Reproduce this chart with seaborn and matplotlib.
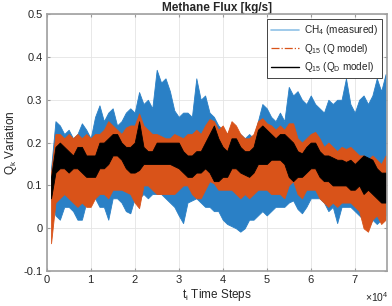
import numpy as np
import matplotlib
matplotlib.use("Agg")
import matplotlib.pyplot as plt
from matplotlib.lines import Line2D
import seaborn as sns
import pandas as pd

# time steps (thousands, one every 1000 steps)
t = [k * 1000 for k in range(1, 78)]

# envelope of the measured CH4 signal (blue)
meas_hi = [0.14, 0.25, 0.24, 0.22, 0.23, 0.21, 0.22, 0.245, 0.23, 0.21,
           0.26, 0.287, 0.25, 0.27, 0.28, 0.24, 0.25, 0.27, 0.28, 0.27,
           0.318, 0.29, 0.30, 0.28, 0.37, 0.34, 0.35, 0.32, 0.275, 0.26,
           0.27, 0.27, 0.26, 0.35, 0.30, 0.31, 0.27, 0.26, 0.24, 0.23,
           0.22, 0.24, 0.22, 0.22, 0.21, 0.22, 0.21, 0.25, 0.29, 0.28,
           0.26, 0.25, 0.27, 0.25, 0.33, 0.31, 0.32, 0.30, 0.29, 0.31,
           0.29, 0.28, 0.27, 0.30, 0.29, 0.30, 0.30, 0.35, 0.29, 0.27,
           0.30, 0.31, 0.29, 0.31, 0.35, 0.32, 0.36]
meas_lo = [0.07, 0.03, 0.02, 0.05, 0.05, 0.04, 0.02, 0.02, 0.06, 0.07,
           0.07, 0.05, 0.05, 0.02, 0.07, 0.07, 0.06, 0.04, 0.035, 0.07,
           0.07, 0.08, 0.07, 0.08, 0.08, 0.08, 0.07, 0.06, 0.05, 0.03,
           0.012, 0.06, 0.065, 0.07, 0.06, 0.05, 0.05, 0.04, 0.04, 0.02,
           0.01, 0.005, 0.0, -0.008, 0.0, 0.02, 0.02, 0.03, 0.04, 0.03,
           0.04, 0.05, 0.05, 0.05, 0.06, 0.065, 0.045, 0.035, 0.05, 0.07,
           0.07, 0.07, 0.06, 0.04, 0.05, 0.012, 0.05, 0.05, 0.05, 0.04,
           0.03, 0.02, 0.0, 0.02, 0.01, 0.02, 0.03]

# envelope of Q15 (Q model), orange
qm_hi = [0.13, 0.22, 0.22, 0.21, 0.22, 0.21, 0.22, 0.21, 0.22, 0.21,
         0.22, 0.22, 0.23, 0.25, 0.24, 0.23, 0.22, 0.235, 0.24, 0.24,
         0.268, 0.24, 0.23, 0.22, 0.22, 0.215, 0.21, 0.21, 0.22, 0.215,
         0.21, 0.22, 0.22, 0.23, 0.22, 0.24, 0.255, 0.25, 0.23, 0.24,
         0.22, 0.25, 0.24, 0.22, 0.21, 0.21, 0.22, 0.25, 0.257, 0.245,
         0.24, 0.23, 0.24, 0.23, 0.245, 0.245, 0.21, 0.20, 0.21, 0.22,
         0.225, 0.21, 0.19, 0.20, 0.19, 0.18, 0.19, 0.185, 0.19, 0.18,
         0.17, 0.17, 0.16, 0.17, 0.16, 0.15, 0.17]
qm_lo = [-0.035, 0.06, 0.07, 0.08, 0.07, 0.06, 0.05, 0.06, 0.05, 0.05,
         0.07, 0.08, 0.08, 0.07, 0.09, 0.09, 0.09, 0.085, 0.08, 0.06,
         0.047, 0.10, 0.10, 0.09, 0.08, 0.08, 0.08, 0.08, 0.08, 0.09,
         0.10, 0.10, 0.08, 0.07, 0.07, 0.09, 0.11, 0.105, 0.09, 0.09,
         0.09, 0.09, 0.08, 0.07, 0.08, 0.07, 0.08, 0.09, 0.09, 0.09,
         0.08, 0.08, 0.08, 0.07, 0.10, 0.11, 0.08, 0.07, 0.09, 0.09,
         0.09, 0.07, 0.06, 0.05, 0.06, 0.05, 0.06, 0.06, 0.06, 0.05,
         0.04, 0.0, -0.008, 0.02, 0.03, 0.01, 0.02]

# envelope of Q15 (QD model), black
qd_hi = [0.12, 0.19, 0.20, 0.19, 0.18, 0.17, 0.19, 0.19, 0.17, 0.17,
         0.17, 0.20, 0.20, 0.21, 0.22, 0.22, 0.20, 0.19, 0.19, 0.20,
         0.25, 0.19, 0.18, 0.18, 0.20, 0.20, 0.20, 0.20, 0.20, 0.20,
         0.18, 0.17, 0.17, 0.18, 0.18, 0.20, 0.22, 0.24, 0.21, 0.19,
         0.18, 0.21, 0.21, 0.19, 0.18, 0.18, 0.19, 0.23, 0.24, 0.23,
         0.22, 0.21, 0.22, 0.22, 0.21, 0.20, 0.18, 0.175, 0.19, 0.20,
         0.20, 0.18, 0.17, 0.17, 0.165, 0.16, 0.16, 0.155, 0.16, 0.15,
         0.16, 0.17, 0.165, 0.16, 0.14, 0.13, 0.13]
qd_lo = [0.07, 0.13, 0.14, 0.14, 0.13, 0.14, 0.14, 0.13, 0.12, 0.12,
         0.12, 0.14, 0.14, 0.15, 0.17, 0.17, 0.16, 0.14, 0.13, 0.13,
         0.136, 0.15, 0.15, 0.15, 0.15, 0.15, 0.15, 0.15, 0.145, 0.14,
         0.13, 0.12, 0.12, 0.13, 0.13, 0.14, 0.13, 0.11, 0.11, 0.12,
         0.12, 0.14, 0.14, 0.13, 0.125, 0.12, 0.13, 0.15, 0.15, 0.15,
         0.16, 0.16, 0.16, 0.15, 0.12, 0.11, 0.12, 0.12, 0.13, 0.14,
         0.14, 0.12, 0.11, 0.11, 0.10, 0.10, 0.10, 0.10, 0.09, 0.09,
         0.10, 0.08, 0.09, 0.08, 0.07, 0.06, 0.06]

labels = [r"CH$_\mathregular{4}$ (measured)",
          r"Q$_\mathregular{15}$ (Q model)",
          r"Q$_\mathregular{15}$ (Q$_\mathregular{D}$ model)"]
xticks = [0, 10000, 20000, 30000, 40000, 50000, 60000, 70000]
yticks = [-0.1, 0, 0.1, 0.2, 0.3, 0.4, 0.5]

sns.set_style("whitegrid")
plt.rcParams['font.family'] = ['Liberation Sans', 'DejaVu Sans']
plt.rcParams['mathtext.fontset'] = 'custom'
plt.rcParams['mathtext.rm'] = 'Liberation Sans'

def long_df(lo, hi):
	return pd.DataFrame({'t': t + t, 'v': lo + hi})

fig = plt.figure(figsize=(3.92, 3.06), dpi=100)
ax = fig.add_axes([0.119, 0.114, 0.868, 0.840])

series = [(meas_lo, meas_hi, '#2a80c6'),
          (qm_lo, qm_hi, '#D95319'),
          (qd_lo, qd_hi, 'black')]
for z, (lo, hi, col) in enumerate(series):
	sns.lineplot(data=long_df(lo, hi), x='t', y='v', ax=ax, color=col,
	             errorbar=lambda v: (v.min(), v.max()),
	             err_kws={'alpha': 1, 'linewidth': 0.6, 'edgecolor': col, 'zorder': 2 + z},
	             linewidth=0, legend=False)

ax.set_xlim(0, 77300)
ax.set_ylim(-0.1, 0.5)
ax.set_xticks(xticks)
ax.set_xticklabels([str(x // 10000) for x in xticks])
ax.set_yticks(yticks)
ax.set_yticklabels(['-0.1', '0', '0.1', '0.2', '0.3', '0.4', '0.5'])
ax.tick_params(labelsize=8, colors='#262626', direction='in', length=2.5,
               top=True, right=True, bottom=True, left=True, pad=3)
ax.tick_params(axis='both', color='#9a9a9a')
ax.grid(True, color='#e4e4e4', linewidth=0.6)
ax.set_axisbelow(True)
for s in ax.spines.values():
	s.set_color('#a0a0a0')
	s.set_linewidth(1.2)
	s.set_visible(True)
	s.set_zorder(10)

ax.set_title("Methane Flux [kg/s]", fontsize=8.5, fontweight='bold', pad=2)
ax.set_xlabel(r"t$_\mathregular{i}$ Time Steps", fontsize=8.5, color='#262626', labelpad=1)
ax.set_ylabel(r"Q$_\mathregular{k}$ Variation", fontsize=8.5, color='#262626', labelpad=3)
ax.text(1.005, -0.075, r"$\times$10$^\mathregular{4}$", transform=ax.transAxes,
        fontsize=7.5, color='#262626', ha='right', va='top')

handles = [Line2D([], [], color='#8fc1e6', lw=1.2),
           Line2D([], [], color='#D95319', lw=0.9, ls='-.'),
           Line2D([], [], color='black', lw=1.0)]
leg = ax.legend(handles, labels, loc='upper right', fontsize=7.2,
                frameon=True, fancybox=False, framealpha=1, edgecolor='#262626',
                handlelength=2.8, borderpad=0.4, labelspacing=0.45,
                borderaxespad=0.5, handletextpad=0.5)
leg.get_frame().set_linewidth(0.6)
leg.set_zorder(20)

plt.savefig('out.png', dpi=100)
